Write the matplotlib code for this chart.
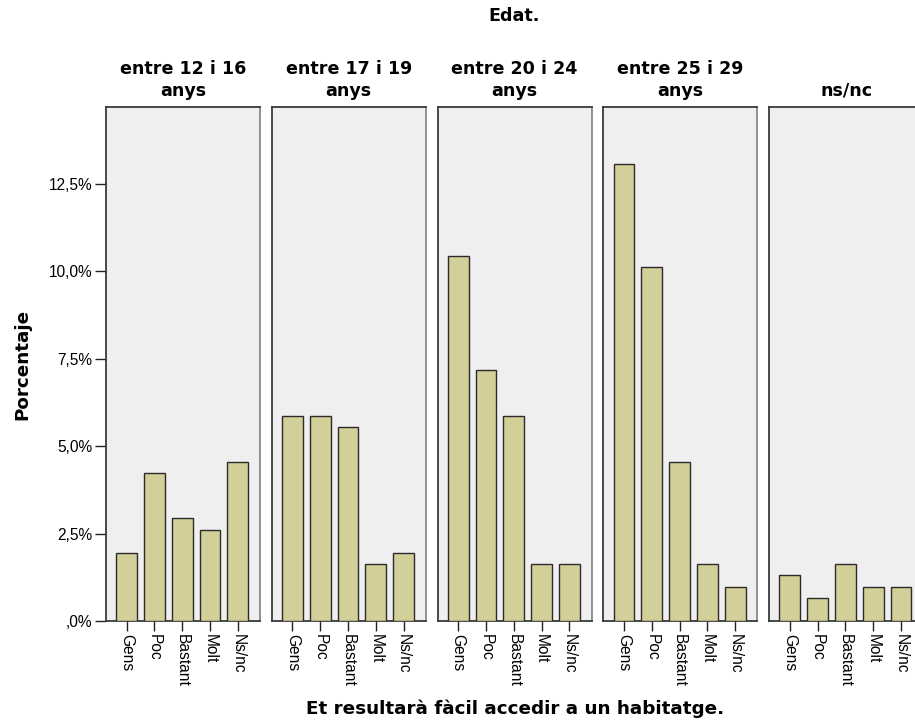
import matplotlib
matplotlib.use("Agg")
import matplotlib.pyplot as plt
from matplotlib.ticker import FuncFormatter

# ---- data (percent of total) ----
age_groups = ["entre 12 i 16\nanys", "entre 17 i 19\nanys", "entre 20 i 24\nanys",
              "entre 25 i 29\nanys", "ns/nc"]
categories = ["Gens", "Poc", "Bastant", "Molt", "Ns/nc"]
pct_12_16 = [1.95, 4.24, 2.94, 2.61, 4.56]
pct_17_19 = [5.87, 5.87, 5.56, 1.63, 1.95]
pct_20_24 = [10.44, 7.18, 5.87, 1.63, 1.63]
pct_25_29 = [13.06, 10.13, 4.56, 1.63, 0.98]
pct_nsnc = [1.31, 0.65, 1.63, 0.98, 0.98]
yticks = [0, 2.5, 5.0, 7.5, 10.0, 12.5]

series = [pct_12_16, pct_17_19, pct_20_24, pct_25_29, pct_nsnc]

W, H = 915, 725
fig = plt.figure(figsize=(W / 100, H / 100), dpi=100)
fig.patch.set_facecolor("white")

bar_color = "#D3CF98"
edge_color = "#2b2b2b"
panel_bg = "#EFEFEF"

left0, step, pw = 106, 165.8, 154
top_px, bot_px = 107, 621

def fmt(v, pos):
    s = f"{v:.1f}".replace(".", ",")
    if s.startswith("0,"):
        s = s[1:]
    return s + "%"

title_font = dict(family="DejaVu Sans", weight="bold", size=12.6)
label_font = dict(family="DejaVu Sans", weight="bold", size=13.2)
tick_font = "Liberation Sans"
tick_size = 11.2

for i, (name, vals) in enumerate(zip(age_groups, series)):
    l = left0 + i * step
    ax = fig.add_axes([l / W, 1 - bot_px / H, pw / W, (bot_px - top_px) / H])
    ax.set_facecolor(panel_bg)
    x = list(range(len(categories)))
    ax.bar(x, vals, width=0.75, color=bar_color, edgecolor=edge_color, linewidth=1.0, zorder=3)
    ax.set_xlim(-0.74, 4.8)
    ax.set_ylim(0, 14.7)
    ax.set_xticks(x)
    ax.set_xticklabels(categories, rotation=-90, fontsize=tick_size, family=tick_font)
    ax.tick_params(axis="x", length=7, width=1.0, color="#222222", pad=2)
    ax.set_yticks(yticks)
    if i == 0:
        ax.yaxis.set_major_formatter(FuncFormatter(fmt))
        ax.tick_params(axis="y", length=8, width=1.0, color="#222222", pad=2)
        for t in ax.get_yticklabels():
            t.set_family(tick_font)
            t.set_fontsize(tick_size)
    else:
        ax.tick_params(axis="y", left=False, labelleft=False)
    for s in ax.spines.values():
        s.set_color("#3a3a3a")
        s.set_linewidth(1.3)
    ax.spines["right"].set_color("#8a8a8a")
    ax.set_title(name, fontdict=title_font, pad=8, linespacing=1.3)

fig.text(514 / W, 1 - 16 / H, "Edat.", ha="center", va="center", **title_font)
fig.text(22 / W, 1 - 364 / H, "Porcentaje", ha="center", va="center", rotation=90, **label_font)
fig.text(515 / W, 1 - 709 / H, "Et resultarà fàcil accedir a un habitatge.", ha="center",
         va="center", **label_font)

fig.savefig("out.png", dpi=100)
